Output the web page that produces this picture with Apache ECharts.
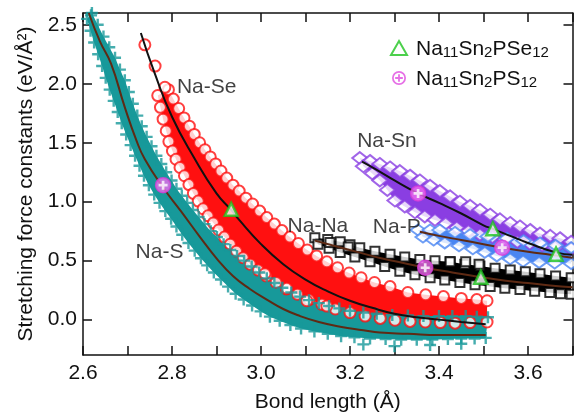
<!DOCTYPE html>
<html><head><meta charset="utf-8">
<script src="https://cdn.jsdelivr.net/npm/echarts@6/dist/echarts.min.js"></script>
<style>html,body{margin:0;padding:0;background:#fff}#c{width:574px;height:418px}</style>
</head><body><div id="c"></div>
<script>
// ---- axis ticks ----
const xTickValues = [2.6, 2.7, 2.8, 2.9, 3.0, 3.1, 3.2, 3.3, 3.4, 3.5, 3.6, 3.7];
const xLabelValues = [2.6, 2.8, 3.0, 3.2, 3.4, 3.6];
const yTickValues = [0, 0.5, 1.0, 1.5, 2.0, 2.5];

// ---- Na-S (teal +) : envelope of the cloud ----
const naS_upper = [[2.620,2.60],[2.633,2.50],[2.646,2.40],[2.659,2.31],[2.672,2.22],[2.683,2.12],[2.694,2.03],[2.703,1.93],[2.712,1.83],[2.722,1.73],[2.732,1.64],[2.743,1.55],[2.754,1.47],[2.765,1.39],[2.776,1.32],[2.787,1.25],[2.799,1.18],[2.810,1.11],[2.822,1.05],[2.834,0.99],[2.847,0.93],[2.860,0.87],[2.873,0.81],[2.887,0.75],[2.901,0.70],[2.916,0.64],[2.931,0.59],[2.946,0.54],[2.962,0.50],[2.979,0.45],[2.996,0.40],[3.013,0.35],[3.030,0.31],[3.048,0.27],[3.068,0.23],[3.088,0.195],[3.108,0.165],[3.130,0.14],[3.153,0.115],[3.176,0.095],[3.200,0.075],[3.230,0.06],[3.260,0.05],[3.295,0.04],[3.330,0.035],[3.365,0.03],[3.400,0.03],[3.430,0.03],[3.460,0.03],[3.485,0.025],[3.510,0.02]];
const naS_lower = [[2.609,2.55],[2.617,2.45],[2.625,2.35],[2.634,2.25],[2.643,2.15],[2.651,2.05],[2.660,1.95],[2.669,1.855],[2.678,1.76],[2.687,1.665],[2.697,1.57],[2.707,1.48],[2.717,1.39],[2.727,1.305],[2.737,1.22],[2.748,1.14],[2.760,1.06],[2.772,0.99],[2.785,0.92],[2.798,0.855],[2.810,0.79],[2.823,0.72],[2.837,0.65],[2.851,0.585],[2.865,0.52],[2.879,0.46],[2.894,0.40],[2.910,0.34],[2.926,0.28],[2.943,0.22],[2.961,0.17],[2.980,0.12],[2.999,0.07],[3.020,0.025],[3.042,-0.01],[3.066,-0.045],[3.090,-0.075],[3.120,-0.10],[3.150,-0.12],[3.180,-0.14],[3.210,-0.15],[3.245,-0.16],[3.280,-0.165],[3.315,-0.17],[3.350,-0.17],[3.385,-0.17],[3.420,-0.165],[3.450,-0.16],[3.480,-0.16],[3.505,-0.155]];
const naS_stray = [[2.618,2.58],[2.645,2.33],[3.23,-0.21],[3.30,-0.225],[3.38,-0.215],[3.45,-0.205]];
const naS_fit = [[2.613,2.60],[2.638,2.36],[2.663,2.17],[2.694,1.80],[2.720,1.52],[2.739,1.36],[2.780,1.12],[2.820,0.92],[2.863,0.70],[2.900,0.52],[2.937,0.37],[2.975,0.26],[3.013,0.17],[3.050,0.09],[3.088,0.03],[3.130,-0.02],[3.178,-0.06],[3.230,-0.09],[3.267,-0.11],[3.330,-0.12],[3.400,-0.13],[3.450,-0.13],[3.505,-0.13]];

// ---- Na-Se (red o) ----
const naSe_upper = [[2.792,1.95],[2.803,1.87],[2.815,1.79],[2.827,1.71],[2.839,1.64],[2.850,1.57],[2.862,1.50],[2.874,1.44],[2.886,1.38],[2.898,1.32],[2.910,1.26],[2.923,1.20],[2.937,1.14],[2.951,1.09],[2.966,1.03],[2.981,0.98],[2.997,0.92],[3.013,0.865],[3.030,0.81],[3.047,0.755],[3.065,0.70],[3.084,0.645],[3.104,0.59],[3.125,0.54],[3.148,0.49],[3.172,0.44],[3.198,0.395],[3.225,0.355],[3.255,0.315],[3.290,0.28],[3.330,0.23],[3.370,0.21],[3.410,0.195],[3.450,0.18],[3.485,0.17],[3.508,0.16]];
const naSe_lower = [[2.768,1.90],[2.774,1.80],[2.780,1.70],[2.787,1.60],[2.793,1.51],[2.801,1.43],[2.809,1.36],[2.818,1.29],[2.828,1.22],[2.838,1.145],[2.848,1.07],[2.859,1.005],[2.870,0.94],[2.881,0.88],[2.893,0.82],[2.905,0.76],[2.918,0.70],[2.931,0.64],[2.945,0.58],[2.960,0.525],[2.976,0.47],[2.994,0.42],[3.012,0.37],[3.034,0.315],[3.057,0.26],[3.082,0.215],[3.108,0.17],[3.137,0.13],[3.167,0.09],[3.200,0.06],[3.234,0.03],[3.268,0.01],[3.301,-0.005],[3.335,-0.015],[3.369,-0.02],[3.403,-0.025],[3.436,-0.03],[3.470,-0.025],[3.508,-0.02]];
const naSe_stray = [[2.739,2.33],[2.762,2.15],[2.784,1.97],[3.009,0.39],[3.058,0.265],[3.103,0.16],[3.148,0.115]];
const naSe_fit = [[2.730,2.43],[2.760,2.10],[2.800,1.72],[2.850,1.37],[2.900,1.07],[2.933,0.93],[2.950,0.85],[3.000,0.64],[3.050,0.47],[3.100,0.34],[3.150,0.24],[3.200,0.16],[3.250,0.10],[3.300,0.05],[3.350,0.02],[3.400,0.00],[3.450,-0.02],[3.505,-0.04]];

// ---- Na-Na (black squares) ----
const naNa_upper = [[3.121,0.695],[3.150,0.68],[3.178,0.66],[3.200,0.635],[3.222,0.61],[3.256,0.58],[3.290,0.555],[3.323,0.53],[3.357,0.51],[3.391,0.50],[3.425,0.49],[3.458,0.47],[3.492,0.455],[3.526,0.435],[3.560,0.42],[3.594,0.405],[3.627,0.39],[3.662,0.37],[3.697,0.355]];
const naNa_lower = [[3.128,0.64],[3.153,0.605],[3.178,0.57],[3.211,0.53],[3.245,0.49],[3.278,0.45],[3.312,0.41],[3.346,0.38],[3.380,0.355],[3.413,0.335],[3.447,0.315],[3.481,0.295],[3.515,0.28],[3.548,0.265],[3.582,0.255],[3.615,0.24],[3.649,0.23],[3.673,0.22],[3.697,0.215]];
const naNa_stray = [[3.155,0.655],[3.196,0.615],[3.425,0.49],[3.460,0.49],[3.490,0.47]];
const naNa_fit = [[3.121,0.67],[3.170,0.62],[3.220,0.57],[3.270,0.52],[3.320,0.48],[3.369,0.44],[3.430,0.40],[3.494,0.36],[3.550,0.33],[3.600,0.31],[3.650,0.29],[3.700,0.275]];

// ---- Na-P (blue diamonds) ----
const naP_upper = [[3.353,0.76],[3.380,0.76],[3.402,0.76],[3.436,0.74],[3.470,0.72],[3.510,0.705],[3.553,0.69],[3.590,0.67],[3.627,0.65],[3.662,0.63],[3.697,0.61]];
const naP_lower = [[3.364,0.70],[3.388,0.675],[3.413,0.65],[3.445,0.625],[3.476,0.60],[3.503,0.57],[3.530,0.54],[3.560,0.515],[3.589,0.495],[3.625,0.485],[3.660,0.48],[3.697,0.475]];
const naP_fit = [[3.357,0.745],[3.400,0.71],[3.450,0.675],[3.500,0.64],[3.542,0.61],[3.600,0.575],[3.650,0.55],[3.700,0.525]];

// ---- Na-Sn (purple diamonds) ----
const naSn_upper = [[3.222,1.37],[3.245,1.345],[3.267,1.32],[3.290,1.29],[3.312,1.26],[3.335,1.22],[3.357,1.18],[3.380,1.135],[3.402,1.09],[3.425,1.045],[3.447,1.00],[3.470,0.965],[3.492,0.93],[3.515,0.89],[3.537,0.85],[3.560,0.82],[3.582,0.79],[3.605,0.76],[3.627,0.73],[3.650,0.71],[3.672,0.69],[3.697,0.66]];
const naSn_lower = [[3.230,1.30],[3.250,1.24],[3.267,1.18],[3.284,1.10],[3.301,1.01],[3.323,0.96],[3.346,0.91],[3.368,0.875],[3.391,0.845],[3.415,0.815],[3.440,0.78],[3.466,0.75],[3.492,0.72],[3.520,0.70],[3.548,0.68],[3.576,0.66],[3.604,0.645],[3.632,0.63],[3.661,0.61],[3.697,0.60]];
const naSn_fit = [[3.227,1.34],[3.260,1.27],[3.300,1.18],[3.353,1.07],[3.400,0.99],[3.450,0.90],[3.500,0.80],[3.521,0.77],[3.560,0.71],[3.600,0.65],[3.663,0.57],[3.700,0.55]];

// ---- highlighted compounds ----
const pse12Points = [[2.933,0.935],[3.494,0.36],[3.521,0.77],[3.663,0.555]];
const ps12Points = [[2.780,1.14],[3.369,0.44],[3.353,1.07],[3.542,0.61]];

// ---- bond labels ----
const bondNames = ['Na-Se', 'Na-S', 'Na-Na', 'Na-P', 'Na-Sn'];
const bondLabelAt = [[2.878,1.97],[2.772,0.57],[3.128,0.795],[3.305,0.785],[3.283,1.51]];

const FONT = "'Liberation Sans', Arial, sans-serif";
const BROWN = '#5e2a14';
const INK = '#111111';

function band(upper, lower, color, z) {
  return {
    type: 'custom', silent: true, z: z, data: [0],
    renderItem: function (params, api) {
      const pts = upper.concat(lower.slice().reverse()).map(p => api.coord(p));
      return { type: 'polygon', shape: { points: pts }, style: { fill: color } };
    }
  };
}
function cloud(name, pts, symbol, size, style, z) {
  return { type: 'scatter', name: name, silent: true, z: z, data: pts, symbol: symbol, symbolSize: size, itemStyle: style };
}
function fit(pts, color) {
  return { type: 'line', silent: true, z: 5, data: pts, showSymbol: false, symbol: 'none', smooth: 0.5,
           lineStyle: { color: color, width: 2 } };
}

const TEAL = '#17999a', RED = '#ff1010', BLUE = '#4a86f2', PURPLE = '#8a3ee2';
const plusPath = 'path://M4,0h2v10h-2z M0,4h10v2h-10z';

const chart = echarts.init(document.getElementById('c'), null, { renderer: 'canvas' });

const axisCommon = {
  axisLine: { show: true, onZero: false, lineStyle: { color: INK, width: 1.5 } },
  splitLine: { show: false },
};

chart.setOption({
  animation: false,
  backgroundColor: '#ffffff',
  grid: { left: 83, right: 1.5, top: 13, bottom: 55, containLabel: false },
  legend: {
    orient: 'vertical', left: 385, top: 34, itemGap: 9, itemWidth: 16, itemHeight: 14,
    data: [
      { name: 'Na11Sn2PSe12' },
      { name: 'Na11Sn2PS12', icon: 'path://M0,-10A10,10 0 1,1 0,10A10,10 0 1,1 0,-10Z M0,-7.5A7.5,7.5 0 1,0 0,7.5A7.5,7.5 0 1,0 0,-7.5Z M-1.3,-5.5h2.6v11h-2.6z M-5.5,-1.3h11v2.6h-11z',
        itemStyle: { color: '#e04ce0', borderWidth: 0 } }
    ],
    formatter: function (name) {
      return '{g|}' + name.replace(/([A-Za-z]+)/g, '{n|$1}').replace(/(\d+)/g, '{s|$1}');
    },
    textStyle: {
      rich: {
        g: { width: 4, lineHeight: 24 },
        n: { fontSize: 21, fontFamily: FONT, color: INK, lineHeight: 24, verticalAlign: 'bottom' },
        s: { fontSize: 15, fontFamily: FONT, color: INK, lineHeight: 12, verticalAlign: 'bottom' }
      }
    }
  },
  xAxis: [
    Object.assign({}, axisCommon, {
      type: 'value', min: 2.6, max: 3.7, position: 'bottom',
      name: 'Bond length (Å)', nameLocation: 'middle', nameGap: 37,
      nameTextStyle: { fontSize: 21, fontFamily: FONT, color: INK },
      axisTick: { show: true, inside: true, length: 9, customValues: xTickValues, lineStyle: { color: INK, width: 1.5 } },
      axisLabel: { show: true, margin: 8, fontSize: 21, fontFamily: FONT, color: INK, customValues: xLabelValues,
                   formatter: v => v.toFixed(1) }
    }),
    Object.assign({}, axisCommon, {
      type: 'value', min: 2.6, max: 3.7, position: 'top',
      axisTick: { show: true, inside: true, length: 9, customValues: xTickValues, lineStyle: { color: INK, width: 1.5 } },
      axisLabel: { show: false }
    })
  ],
  yAxis: [
    Object.assign({}, axisCommon, {
      type: 'value', min: -0.3, max: 2.6, position: 'left',
      name: 'Stretching force constants (eV/Å²)', nameLocation: 'middle', nameGap: 39,
      nameTextStyle: { fontSize: 21, fontFamily: FONT, color: INK },
      axisTick: { show: true, inside: true, length: 9, customValues: yTickValues, lineStyle: { color: INK, width: 1.5 } },
      axisLabel: { show: true, margin: 6, fontSize: 21, fontFamily: FONT, color: INK, customValues: yTickValues,
                   formatter: v => v.toFixed(1) }
    }),
    Object.assign({}, axisCommon, {
      type: 'value', min: -0.3, max: 2.6, position: 'right',
      axisTick: { show: true, inside: true, length: 9, customValues: yTickValues, lineStyle: { color: INK, width: 1.5 } },
      axisLabel: { show: false }
    })
  ],
  series: [
    // clouds
    band(naSe_upper, naSe_lower, RED, 1),
    cloud('Na-Se', naSe_upper.concat(naSe_lower, naSe_stray), 'emptyCircle', 11, { color: RED, borderColor: RED, borderWidth: 2 }, 2),
    band(naS_upper, naS_lower, TEAL, 2),
    cloud('Na-S', naS_upper.concat(naS_lower, naS_stray), plusPath, 12, { color: TEAL }, 3),
    band(naSn_upper, naSn_lower, PURPLE, 2),
    cloud('Na-Sn', naSn_upper.concat(naSn_lower), 'emptyDiamond', [15, 12], { color: PURPLE, borderColor: PURPLE, borderWidth: 1.5 }, 3),
    band(naP_upper, naP_lower, BLUE, 3),
    cloud('Na-P', naP_upper.concat(naP_lower), 'emptyDiamond', [15, 11], { color: BLUE, borderColor: BLUE, borderWidth: 1.5 }, 4),
    band(naNa_upper, naNa_lower, '#000000', 3),
    cloud('Na-Na', naNa_upper.concat(naNa_lower, naNa_stray), 'emptyRect', 9, { color: '#000', borderColor: '#000', borderWidth: 1.5 }, 4),
    // fits
    fit(naS_fit, BROWN),
    fit(naSe_fit, INK),
    fit(naNa_fit, BROWN),
    fit(naP_fit, BROWN),
    fit(naSn_fit, INK),
    // highlighted
    { type: 'scatter', name: 'Na11Sn2PSe12', z: 8, silent: true, data: pse12Points, symbol: 'triangle', symbolSize: 13,
      itemStyle: { color: '#ffffff', borderColor: '#1fc41f', borderWidth: 2.5 } },
    { type: 'scatter', name: 'Na11Sn2PS12', z: 8, silent: true, data: ps12Points, symbol: 'circle', symbolSize: 15,
      itemStyle: { color: '#ee6aee', borderColor: '#d83cd8', borderWidth: 1.5 } },
    { type: 'scatter', name: 'ps12plus', z: 9, silent: true, data: ps12Points, symbol: 'path://M3.5,0h3v10h-3z M0,3.5h10v3h-10z', symbolSize: 9,
      itemStyle: { color: '#ffffff' } },
    // labels
    { type: 'scatter', name: 'labels', z: 10, silent: true, symbolSize: 0,
      data: bondNames.map((n, i) => ({ name: n, value: bondLabelAt[i] })),
      label: { show: true, position: 'inside', formatter: '{b}', fontSize: 21, fontFamily: FONT, color: INK } }
  ]
});
</script>
</body></html>
